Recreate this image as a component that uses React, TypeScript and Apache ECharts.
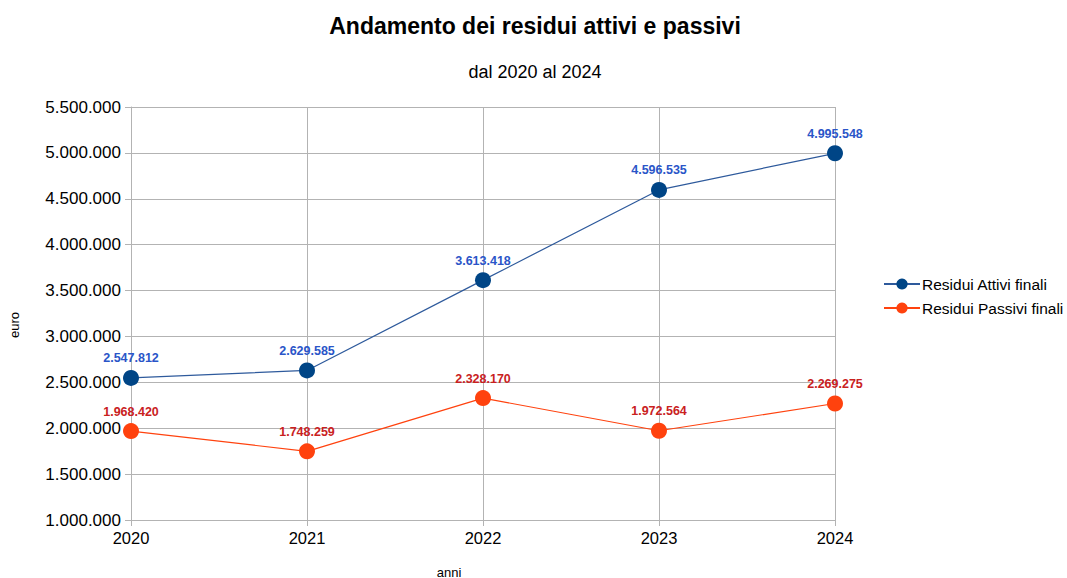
import React, { useEffect, useRef } from "react";
import * as echarts from "echarts";

const years = ["2020", "2021", "2022", "2023", "2024"];
const attivi = [2547812, 2629585, 3613418, 4596535, 4995548];
const passivi = [1968420, 1748259, 2328170, 1972564, 2269275];

const fmt = (v: number) => String(Math.round(v)).replace(/\B(?=(\d{3})+(?!\d))/g, ".");

export default function App() {
  const ref = useRef<HTMLDivElement>(null);
  useEffect(() => {
    const chart = echarts.init(ref.current!, null, { renderer: "svg" });
    const font = "'Liberation Sans', Arial, sans-serif";
    chart.setOption({
      animation: false,
      backgroundColor: "#ffffff",
      textStyle: { fontFamily: font },
      title: [
        {
          text: "Andamento dei residui attivi e passivi",
          left: 530, top: 9, textAlign: "center",
          textStyle: { fontSize: 23, fontWeight: "bold", color: "#000", fontFamily: font },
        },
        {
          text: "dal 2020 al 2024",
          left: 530, top: 58, textAlign: "center",
          textStyle: { fontSize: 18, fontWeight: "normal", color: "#000", fontFamily: font },
        },
      ],
      graphic: [
        {
          type: "text", x: 14, y: 325, rotation: Math.PI / 2,
          style: { text: "euro", fontSize: 13, fill: "#000", fontFamily: font, align: "center", verticalAlign: "middle" },
        },
        {
          type: "text", x: 449, y: 572,
          style: { text: "anni", fontSize: 13, fill: "#000", fontFamily: font, align: "center", verticalAlign: "middle" },
        },
      ],
      legend: {
        orient: "vertical",
        left: 878, top: 271,
        itemWidth: 36, itemHeight: 14, itemGap: 8,
        textStyle: { fontSize: 15.5, color: "#000", fontFamily: font, padding: [0, 0, 0, -3] },
        data: ["Residui Attivi finali", "Residui Passivi finali"],
      },
      grid: { left: 131, right: 232, top: 107, bottom: 58 },
      xAxis: {
        type: "category",
        data: years,
        boundaryGap: false,
        axisLine: { lineStyle: { color: "#b3b3b3" } },
        axisTick: { show: true, length: 6, lineStyle: { color: "#b3b3b3" }, alignWithLabel: true },
        axisLabel: { fontSize: 16.5, color: "#000", margin: 9 },
        splitLine: { show: true, lineStyle: { color: "#b3b3b3" } },
      },
      yAxis: {
        type: "value",
        min: 1000000, max: 5500000, interval: 500000,
        axisLine: { show: true, lineStyle: { color: "#b3b3b3" } },
        axisTick: { show: true, length: 6, lineStyle: { color: "#b3b3b3" } },
        axisLabel: { fontSize: 17, color: "#000", margin: 10, formatter: (v: number) => fmt(v) },
        splitLine: { show: true, lineStyle: { color: "#b3b3b3" } },
      },
      series: [
        {
          name: "Residui Attivi finali",
          type: "line",
          data: attivi,
          symbol: "circle",
          symbolSize: 16,
          itemStyle: { color: "#004586" },
          lineStyle: { color: "#2e5a9c", width: 1.2 },
          label: {
            show: true, position: "top", distance: 5,
            fontSize: 12.5, fontWeight: "bold", color: "#2a55c8",
            formatter: (p: any) => fmt(p.value),
          },
          z: 3,
        },
        {
          name: "Residui Passivi finali",
          type: "line",
          data: passivi,
          symbol: "circle",
          symbolSize: 16,
          itemStyle: { color: "#ff420e" },
          lineStyle: { color: "#ff420e", width: 1.2 },
          label: {
            show: true, position: "top", distance: 5,
            fontSize: 12.5, fontWeight: "bold", color: "#c9211e",
            formatter: (p: any) => fmt(p.value),
          },
          z: 2,
        },
      ],
    });
    return () => chart.dispose();
  }, []);
  return <div ref={ref} style={{ width: 1067, height: 578, position: "absolute", left: 0, top: 0 }} />;
}
